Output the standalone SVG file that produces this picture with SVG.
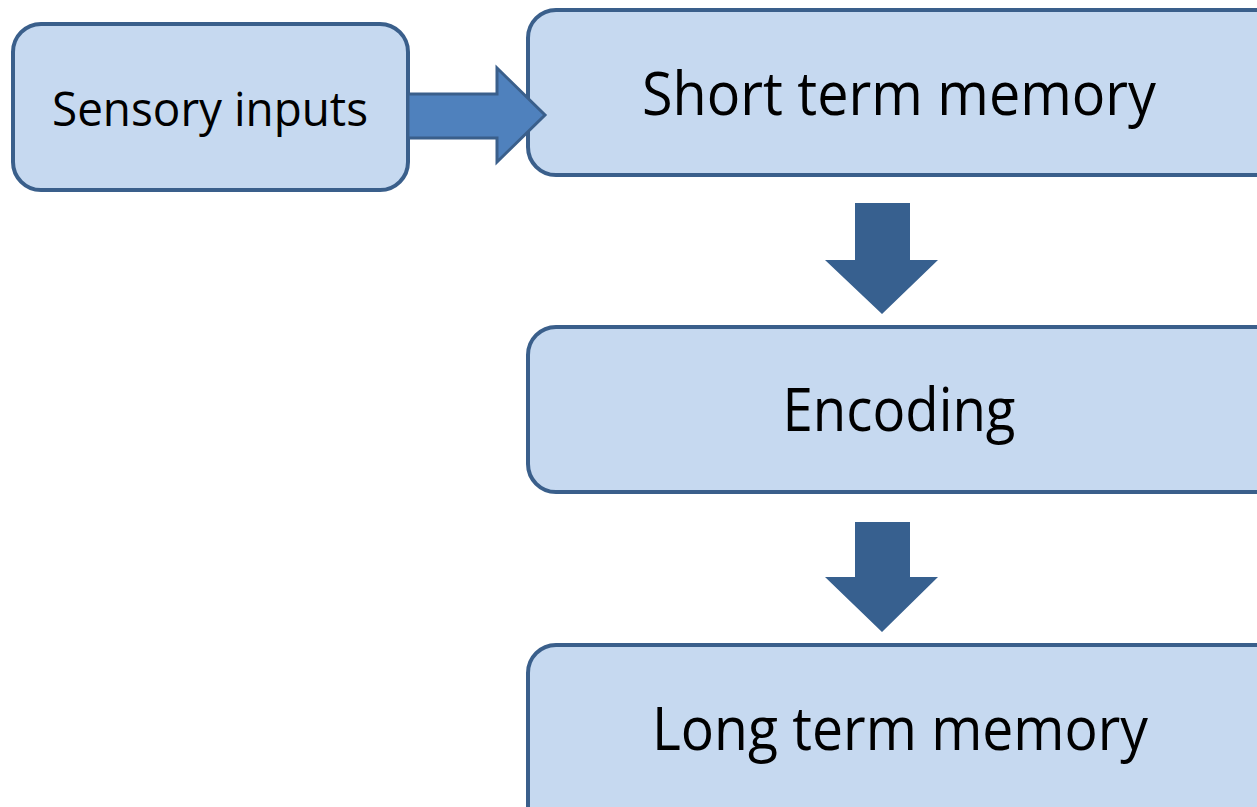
<svg xmlns="http://www.w3.org/2000/svg" width="1257" height="807" viewBox="0 0 1257 807">
  <style>
    .box { fill: #C6D9F0; stroke: #3A5F8B; stroke-width: 4; }
    .label { font-family: "Open Sans", "Noto Sans", sans-serif; fill: #000000; text-anchor: middle; }
    .big { font-size: 60px; }
    .small { font-size: 47px; }
    .arrow-in { fill: #4F81BD; stroke: #3A5F8B; stroke-width: 3; stroke-linejoin: miter; }
    .arrow-down { fill: #37608F; }
  </style>
  <rect width="1257" height="807" fill="#FFFFFF"/>

  <g id="sensory-inputs">
    <rect class="box" x="13" y="24" width="395" height="166" rx="28"/>
    <text class="label small" x="210" y="126" textLength="316" lengthAdjust="spacingAndGlyphs">Sensory inputs</text>
  </g>

  <g id="short-term-memory">
    <rect class="box" x="528" y="10" width="760" height="165" rx="28"/>
    <text class="label big" x="899" y="115" textLength="514" lengthAdjust="spacingAndGlyphs">Short term memory</text>
  </g>

  <g id="encoding">
    <rect class="box" x="528" y="327" width="760" height="165" rx="28"/>
    <text class="label big" x="899" y="431" textLength="233" lengthAdjust="spacingAndGlyphs">Encoding</text>
  </g>

  <g id="long-term-memory">
    <rect class="box" x="528" y="645" width="760" height="200" rx="28"/>
    <text class="label big" x="900" y="750" textLength="496" lengthAdjust="spacingAndGlyphs">Long term memory</text>
  </g>

  <!-- block arrows drawn last so the first one sits over the box edge -->
  <g id="connectors">
    <path class="arrow-in" d="M408,94 H497 V68 L545,115 L497,162 V138 H408 Z"/>
    <path class="arrow-down" d="M855,203 H910 V260 H938 L882,314 L825,260 H855 Z"/>
    <path class="arrow-down" d="M855,522 H910 V577 H938 L882,632 L825,577 H855 Z"/>
  </g>
</svg>
